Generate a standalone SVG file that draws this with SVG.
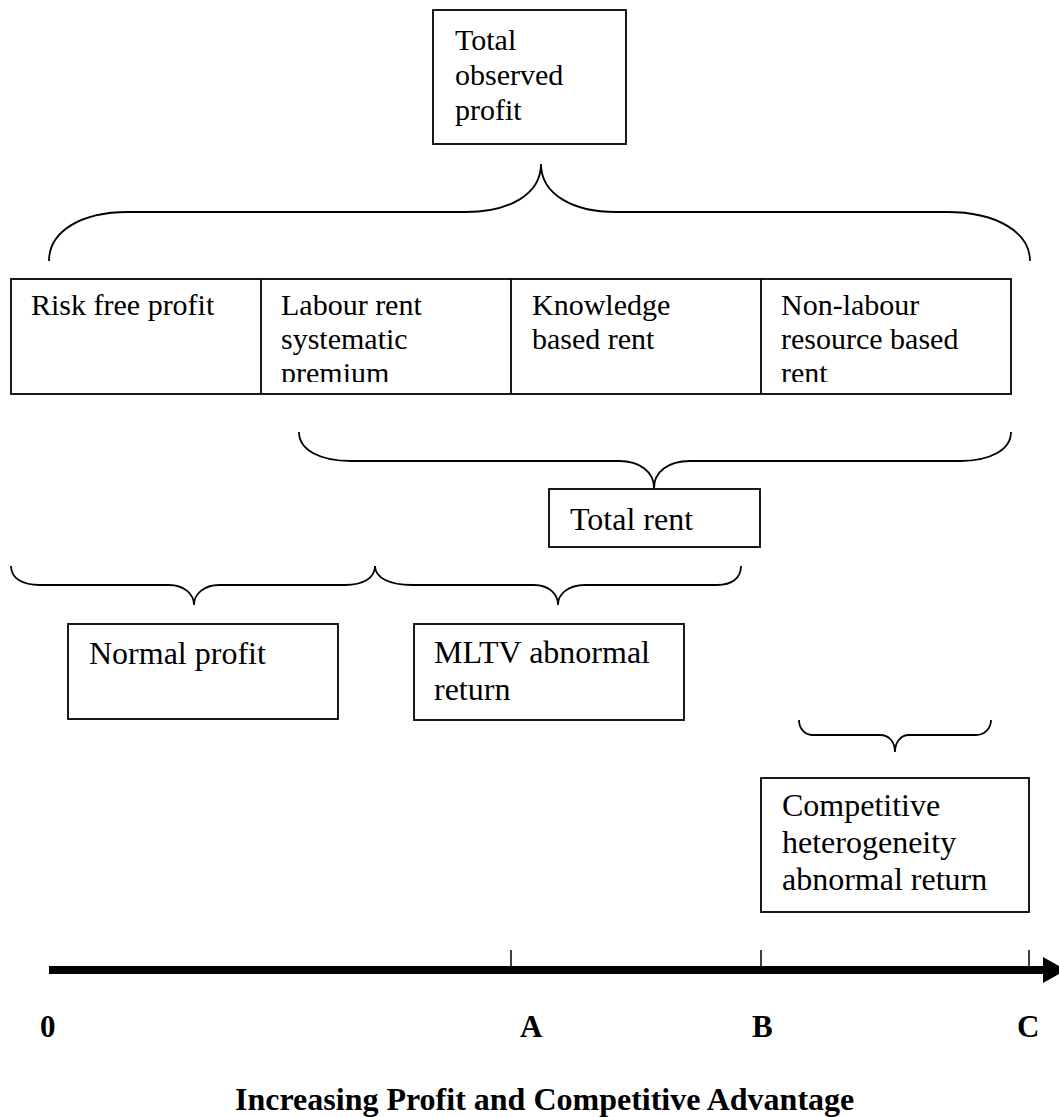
<svg xmlns="http://www.w3.org/2000/svg" width="1059" height="1117" viewBox="0 0 1059 1117">
<defs>
<style>
.box{fill:#fff;stroke:#000;stroke-width:1.8}
.t{font-family:"Liberation Serif","Times New Roman",serif;fill:#000}
.s30{font-size:30px}
.s32{font-size:32px}
.lbl{font-family:"Liberation Serif","Times New Roman",serif;font-weight:bold;fill:#000;font-size:31px}
.brace{fill:none;stroke:#000;stroke-width:1.8}
.tick{stroke:#000;stroke-width:1.5}
</style>
<clipPath id="rowclip"><rect x="0" y="279" width="1059" height="103"/></clipPath>
</defs>
<rect width="1059" height="1117" fill="#fff"/>

<g id="total-observed-profit">
<rect class="box" x="433" y="10" width="193" height="134"/>
<text class="t s30" x="455" y="50">Total</text>
<text class="t s30" x="455" y="85">observed</text>
<text class="t s30" x="455" y="120">profit</text>
</g>

<g id="components-row">
<rect class="box" x="11" y="279" width="1000" height="115"/>
<line class="box" x1="261" y1="279" x2="261" y2="394"/>
<line class="box" x1="511" y1="279" x2="511" y2="394"/>
<line class="box" x1="761" y1="279" x2="761" y2="394"/>
<g clip-path="url(#rowclip)">
<g id="risk-free-profit">
<text class="t s30" x="31" y="315">Risk free profit</text>
</g>
<g id="labour-rent">
<text class="t s30" x="281" y="315">Labour rent</text>
<text class="t s30" x="281" y="349">systematic</text>
<text class="t s30" x="281" y="383">premium</text>
</g>
<g id="knowledge-rent">
<text class="t s30" x="532" y="315">Knowledge</text>
<text class="t s30" x="532" y="349">based rent</text>
</g>
<g id="non-labour-rent">
<text class="t s30" x="781" y="315">Non-labour</text>
<text class="t s30" x="781" y="349">resource based</text>
<text class="t s30" x="781" y="383">rent</text>
</g>
</g>
</g>

<g id="total-rent">
<rect class="box" x="549" y="489" width="211" height="58"/>
<text class="t s32" x="570" y="530">Total rent</text>
</g>

<g id="normal-profit">
<rect class="box" x="68" y="624" width="270" height="95"/>
<text class="t s32" x="89" y="664">Normal profit</text>
</g>

<g id="mltv-abnormal-return">
<rect class="box" x="414" y="624" width="270" height="96"/>
<text class="t s32" x="434" y="663">MLTV abnormal</text>
<text class="t s32" x="434" y="700">return</text>
</g>

<g id="competitive-heterogeneity">
<rect class="box" x="761" y="778" width="268" height="134"/>
<text class="t s32" x="782" y="816">Competitive</text>
<text class="t s32" x="782" y="853">heterogeneity</text>
<text class="t s32" x="782" y="890">abnormal return</text>
</g>

<g id="connectors">
<path class="brace" d="M49,261 C49,232 80,212 128,212 L466,212 C508,212 541,195 541,164 C541,195 574,212 616,212 L947,212 C996,212 1030,232 1030,261"/>
<path class="brace" d="M299,432 C299,450 320,461 351,461 L619,461 C640,461 654,472 654,488 C654,472 668,461 690,461 L960,461 C990,461 1011,450 1011,432"/>
<path class="brace" d="M11,566 C11,578 22,585 40,585 L169,585 C184,585 194,594 194,605 C194,594 204,585 219,585 L345,585 C363,585 375,578 375,566"/>
<path class="brace" d="M375,566 C375,578 390,585 412,585 L534,585 C549,585 558,594 558,605 C558,594 568,585 585,585 L717,585 C732,585 741,578 741,566"/>
<path class="brace" d="M799,720 C799,729 805,735 813,735 L880,735 C889,735 895,742 895,752 C895,742 901,735 909,735 L976,735 C984,735 991,729 991,720"/>
</g>

<g id="axis">
<line x1="49" y1="970" x2="1046" y2="970" stroke="#000" stroke-width="8"/>
<polygon points="1043,957 1066,970 1043,983" fill="#000"/>
<line class="tick" x1="511" y1="950" x2="511" y2="967"/>
<line class="tick" x1="761" y1="950" x2="761" y2="967"/>
<line class="tick" x1="1029" y1="950" x2="1029" y2="967"/>
<text class="lbl" x="40" y="1037">0</text>
<text class="lbl" x="520" y="1037">A</text>
<text class="lbl" x="752" y="1037">B</text>
<text class="lbl" x="1017" y="1037">C</text>
<text class="lbl" x="235" y="1110" style="font-size:32px">Increasing Profit and Competitive Advantage</text>
</g>
</svg>
